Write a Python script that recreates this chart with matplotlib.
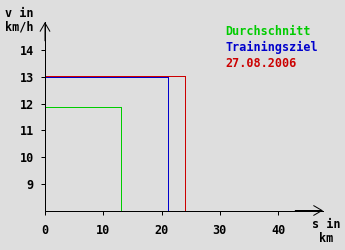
import matplotlib
matplotlib.use("Agg")
import matplotlib.pyplot as plt

# Data
series_labels = ["Durchschnitt", "Trainingsziel", "27.08.2006"]
series_colors = ["#00cc00", "#0000cc", "#cc0000"]
distance_km = [13.1, 21.15, 24.05]
speed_kmh = [11.87, 13.0, 13.03]
x_ticks = [0, 10, 20, 30, 40]
y_ticks = [9, 10, 11, 12, 13, 14]

W, H = 345, 250
bg = "#dedede"
plt.rcParams["font.family"] = ["DejaVu Sans Mono"]
plt.rcParams["font.weight"] = "bold"

fig = plt.figure(figsize=(W / 100, H / 100), dpi=100, facecolor=bg)
x0, x1 = 45, 323
y0, y1 = 210.5, 22
ax = fig.add_axes([x0 / W, (H - y0) / H, (x1 - x0) / W, (y0 - y1) / H])
ax.set_facecolor(bg)
ymin, ymax = 8.0, 15.05
xmin, xmax = 0.0, 47.7
ax.set_xlim(xmin, xmax)
ax.set_ylim(ymin, ymax)

for d, v, c in zip(distance_km, speed_kmh, series_colors):
    ax.plot([0, d, d], [v, v, ymin], color=c, lw=0.72, antialiased=False,
            solid_joinstyle="miter", clip_on=False)

for s in ["top", "right"]:
    ax.spines[s].set_visible(False)
for s in ["left", "bottom"]:
    ax.spines[s].set_color("black")
    ax.spines[s].set_linewidth(0.72)
    ax.spines[s].set_antialiased(False)

ax.set_xticks(x_ticks)
ax.set_yticks(y_ticks)
ax.tick_params(direction="out", length=3, width=0.72, colors="black",
               labelsize=8.5, pad=5)
ax.tick_params(axis="x", pad=7)
for lab in ax.get_xticklabels() + ax.get_yticklabels():
    lab.set_fontweight("bold")

# axis arrows (open chevrons)
ax.annotate("", xy=(0, 1), xytext=(0, 0.9), xycoords="axes fraction",
            arrowprops=dict(arrowstyle="->,head_length=0.6,head_width=0.35",
                            lw=0.72, color="black", shrinkA=0, shrinkB=0))
ax.annotate("", xy=(1, 0), xytext=(0.9, 0), xycoords="axes fraction",
            arrowprops=dict(arrowstyle="->,head_length=0.6,head_width=0.35",
                            lw=0.72, color="black", shrinkA=0, shrinkB=0))

def ftext(x, y, s, **kw):
    fig.text(x / W, 1 - y / H, s, fontsize=8.5, fontweight="bold", **kw)

ftext(5, 16.7, "v in", ha="left", va="baseline")
ftext(5, 31, "km/h", ha="left", va="baseline")
ftext(326.5, 228.3, "s in", ha="center", va="baseline")
ftext(326.5, 241.7, "km", ha="center", va="baseline")

for i, (lab, c) in enumerate(zip(series_labels, series_colors)):
    ftext(225, 35 + i * 15.8, lab, ha="left", va="baseline", color=c)

fig.savefig("out.png", dpi=100, facecolor=bg)
